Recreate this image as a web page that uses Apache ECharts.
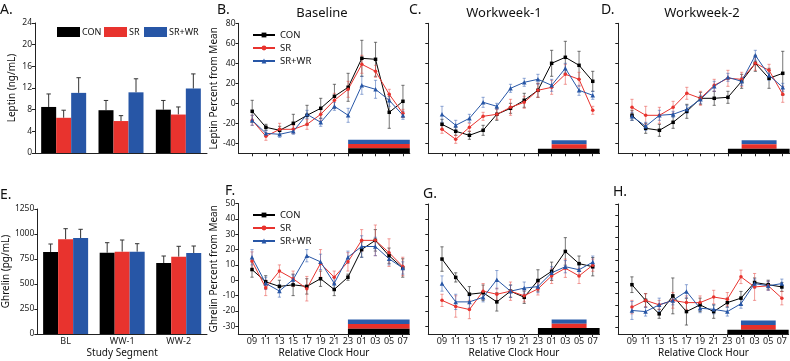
<!DOCTYPE html>
<html>
<head>
<meta charset="utf-8">
<script src="https://cdn.jsdelivr.net/npm/echarts@6/dist/echarts.min.js"></script>
<style>
html, body { margin: 0; padding: 0; background: #fff; }
#chart { width: 790px; height: 361px; }
</style>
</head>
<body>
<div id="chart"></div>
<script>
// categories
const segments = ['BL', 'WW-1', 'WW-2'];
const hours = ['09', '11', '13', '15', '17', '19', '21', '23', '01', '03', '05', '07'];

// A. leptin by study segment (mean, upper SE)
const leptinCON = [8.5, 7.9, 8.0];
const leptinSR = [6.5, 5.9, 7.1];
const leptinWR = [11.1, 11.2, 11.9];
const leptinErrCON = [2.4, 1.8, 1.7];
const leptinErrSR = [1.4, 1.0, 1.4];
const leptinErrWR = [2.8, 2.5, 2.7];

// E. ghrelin by study segment
const ghrelinCON = [820, 813, 710];
const ghrelinSR = [947, 823, 773];
const ghrelinWR = [960, 823, 810];
const ghrelinErrCON = [80, 100, 70];
const ghrelinErrSR = [106, 117, 104];
const ghrelinErrWR = [87, 80, 70];

// B. baseline leptin % from mean
const blLepCON = [-8, -24, -27, -20, -12, -5, 7, 16, 45, 44, -9, 2];
const blLepSR = [-17, -33, -26, -26, -21, -11, 3, 14, 39, 32, 9, -10];
const blLepWR = [-17, -30, -31, -28, -11, -19, -3, -12, 18, 14, 3, -12];
const blLepErrCON = [11, 3, 4, 9, 10, 10, 12, 14, 18, 17, 16, 16];
const blLepErrSR = [5, 4, 6, 4, 5, 6, 7, 8, 9, 6, 5, 4];
const blLepErrWR = [5, 3, 3, 3, 4, 4, 4, 7, 9, 9, 6, 4];

// C. workweek-1 leptin
const w1LepCON = [-21, -28, -32, -27, -11, -5, 3, 13, 40, 46, 38, 22];
const w1LepSR = [-26, -36, -24, -13, -11, -4, 1, 13, 16, 29, 24, -7];
const w1LepWR = [-11, -22, -15, 1, -3, 15, 21, 24, 18, 35, 13, 8];
const w1LepErrCON = [5, 4, 4, 5, 6, 5, 7, 7, 13, 16, 14, 10];
const w1LepErrSR = [4, 4, 4, 4, 5, 8, 6, 7, 7, 10, 7, 4];
const w1LepErrWR = [8, 5, 4, 5, 3, 4, 4, 5, 6, 5, 5, 4];

// D. workweek-2 leptin
const w2LepCON = [-12, -25, -27, -19, -8, 5, 5, 6, 22, 40, 25, 30];
const w2LepSR = [-4, -12, -12, -4, 10, 5, 18, 25, 24, 40, 33, 9];
const w2LepWR = [-13, -23, -12, -11, -6, 4, 17, 26, 22, 48, 28, 16];
const w2LepErrCON = [5, 5, 6, 6, 7, 6, 7, 6, 7, 8, 10, 22];
const w2LepErrSR = [8, 9, 8, 6, 6, 7, 6, 8, 7, 7, 6, 8];
const w2LepErrWR = [4, 4, 5, 3, 4, 4, 5, 4, 4, 5, 5, 4];

// F. baseline ghrelin
const blGhrCON = [7, -1, -4, -3, -4, 1, -6, 2, 20, 26, 16, 8];
const blGhrSR = [12.5, -5, 6, 1, -5.5, 11, 2, 12, 26, 26, 18, 9];
const blGhrWR = [15, -2, -7, 0.5, 16, 12, -2, 15, 22, 22, 14, 8];
const blGhrErrCON = [5, 4, 4, 7, 5, 5, 4, 2, 5, 7, 5, 6];
const blGhrErrSR = [6, 5, 4, 5, 8, 9, 4, 6, 7, 10, 9, 6];
const blGhrErrWR = [5, 4, 4, 3, 4, 5, 4, 4, 7, 6, 4, 4];

// G. workweek-1 ghrelin
const w1GhrCON = [14, 2, -9, -8, -14, -7, -11, 0, 6, 19, 11, 9];
const w1GhrSR = [-13, -17, -19, -7, -9, -7, -10, -5.5, 3, 8, 3, 10];
const w1GhrWR = [-2, -14, -14, -11, 0.5, -7, -5, -4, 5, 9, 7, 12];
const w1GhrErrCON = [8, 3, 5, 5, 6, 4, 4, 7, 6, 9, 5, 6];
const w1GhrErrSR = [4, 7, 6, 5, 4, 6, 4, 4, 5, 6, 5, 4];
const w1GhrErrWR = [5, 5, 4, 3, 6, 4, 4, 4, 4, 4, 4, 4];

// H. workweek-2 ghrelin
const w2GhrCON = [-11, -18, -24, -16, -23, -20, -23, -19, -17, -10, -11, -12];
const w2GhrSR = [-21, -18, -20, -18, -19, -19, -16.5, -17.5, -7.5, -12, -11.5, -17];
const w2GhrWR = [-22.5, -23, -20, -18, -14, -21.5, -22, -23, -19.5, -10.5, -11.5, -10.5];
const w2GhrErrCON = [3.5, 3, 2, 8, 6, 3, 3, 2, 3, 2, 2, 2];
const w2GhrErrSR = [3, 3, 2, 3.5, 3, 3, 3, 3, 3, 6, 2, 3];
const w2GhrErrWR = [4, 2, 3, 2, 3, 2, 2, 2, 2, 2, 2, 2];

// sleep/wake bars: [startIndex, endIndex, yFrom, yTo] for blue, red, black
const blLepSleep = [[7, 11.5, -36.5, -40.7], [7, 11.5, -40.7, -45], [7, 11.5, -45, -50]];
const wwLepSleep = [[8, 10.55, -37, -41], [8, 10.55, -41, -45.5], [7, 11.5, -45.5, -50]];
const blGhrSleep = [[7, 11.5, -25.5, -28.5], [7, 11.5, -28.5, -31.5], [7, 11.5, -31.5, -35]];
const w1GhrSleep = [[8, 10.55, -25.5, -28.3], [8, 10.55, -28.3, -31], [7, 11.5, -31, -35]];
const w2GhrSleep = [[8, 10.55, -27, -29], [8, 10.55, -29, -31.1], [7, 11.5, -31.1, -33]];

const colors = ['#000000', '#e8332e', '#2756a6'];
const errColors = ['rgba(60,60,60,0.7)', 'rgba(232,80,75,0.55)', 'rgba(60,100,180,0.55)'];
const names = ['CON', 'SR', 'SR+WR'];
const symbols = ['rect', 'circle', 'triangle'];
const sleepColors = ['#2a5caa', '#e8302a', '#000000'];
const font = 'Noto Sans';
const axisCol = '#222';

const chart = echarts.init(document.getElementById('chart'));

function range(a, b, s) { const r = []; for (let v = a; v <= b + 1e-9; v += s) r.push(v); return r; }

function errItem(off, cap, color, lowerToo) {
  return function (params, api) {
    const x = api.value(0);
    const t = api.coord([x, api.value(2)]);
    const b = api.coord([x, api.value(1)]);
    t[0] += off; b[0] += off;
    const style = { stroke: color, lineWidth: 1 };
    const kids = [
      { type: 'line', shape: { x1: t[0], y1: t[1], x2: b[0], y2: b[1] }, style },
      { type: 'line', shape: { x1: t[0] - cap, y1: t[1], x2: t[0] + cap, y2: t[1] }, style }
    ];
    if (lowerToo) kids.push({ type: 'line', shape: { x1: b[0] - cap, y1: b[1], x2: b[0] + cap, y2: b[1] }, style });
    return { type: 'group', children: kids };
  };
}

function rectItem(color) {
  return function (params, api) {
    const p0 = api.coord([api.value(0), api.value(2)]);
    const p1 = api.coord([api.value(1), api.value(3)]);
    return { type: 'rect', shape: { x: p0[0], y: p0[1], width: p1[0] - p0[0], height: p1[1] - p0[1] }, style: { fill: color } };
  };
}

const grids = [
  { left: 35, top: 23, width: 172, height: 130 },      // A
  { left: 35, top: 209, width: 172, height: 125 },     // E
  { left: 238.5, top: 23.3, width: 171.3, height: 130 }, // B
  { left: 428.3, top: 23.3, width: 171.3, height: 130 }, // C
  { left: 618.3, top: 23.3, width: 171.3, height: 130 }, // D
  { left: 238.3, top: 203.5, width: 171.3, height: 130.5 }, // F
  { left: 428.3, top: 204, width: 171.3, height: 130 },  // G
  { left: 618.3, top: 204, width: 171.3, height: 130 }   // H
];

const lineStyleAxis = { color: axisCol, width: 1 };
const labelStyle = { fontSize: 8.5, color: axisCol, fontFamily: font, margin: 3 };

const xAxes = [];
const yAxes = [];
const series = [];

// line panels
const linePanels = [
  { g: 2, data: [blLepCON, blLepSR, blLepWR], err: [blLepErrCON, blLepErrSR, blLepErrWR], sleep: blLepSleep, ymin: -50, ymax: 80, ticks: range(-40, 80, 20), yLabel: true, xLabel: false, yName: 'Leptin Percent from Mean' },
  { g: 3, data: [w1LepCON, w1LepSR, w1LepWR], err: [w1LepErrCON, w1LepErrSR, w1LepErrWR], sleep: wwLepSleep, ymin: -50, ymax: 80, ticks: range(-40, 80, 20), yLabel: false, xLabel: false },
  { g: 4, data: [w2LepCON, w2LepSR, w2LepWR], err: [w2LepErrCON, w2LepErrSR, w2LepErrWR], sleep: wwLepSleep, ymin: -50, ymax: 80, ticks: range(-40, 80, 20), yLabel: false, xLabel: false },
  { g: 5, data: [blGhrCON, blGhrSR, blGhrWR], err: [blGhrErrCON, blGhrErrSR, blGhrErrWR], sleep: blGhrSleep, ymin: -35, ymax: 50, ticks: range(-30, 50, 10), yLabel: true, xLabel: true, yName: 'Ghrelin Percent from Mean' },
  { g: 6, data: [w1GhrCON, w1GhrSR, w1GhrWR], err: [w1GhrErrCON, w1GhrErrSR, w1GhrErrWR], sleep: w1GhrSleep, ymin: -35, ymax: 50, ticks: range(-30, 50, 10), yLabel: false, xLabel: true },
  { g: 7, data: [w2GhrCON, w2GhrSR, w2GhrWR], err: [w2GhrErrCON, w2GhrErrSR, w2GhrErrWR], sleep: w2GhrSleep, ymin: -33, ymax: 25, ticks: range(-30, 25, 5), yLabel: false, xLabel: true }
];

// bar panel axes first (index 0, 1)
[0, 1].forEach(function (g) {
  xAxes.push({
    gridIndex: g, type: 'category', data: segments,
    axisLine: { onZero: false, lineStyle: lineStyleAxis },
    axisTick: { alignWithLabel: true, length: 3, lineStyle: lineStyleAxis },
    axisLabel: Object.assign({ show: g === 1 }, labelStyle, { fontSize: 9 }),
    name: g === 1 ? 'Study Segment' : '', nameLocation: 'middle', nameGap: 14,
    nameTextStyle: { fontSize: 10, color: '#111', fontFamily: font }
  });
  yAxes.push({
    gridIndex: g, type: 'value', min: 0, max: g === 0 ? 24 : 1250, interval: g === 0 ? 4 : 250,
    splitLine: { show: false },
    axisLine: { show: true, onZero: false, lineStyle: lineStyleAxis },
    axisTick: { show: true, length: 3, lineStyle: lineStyleAxis },
    axisLabel: Object.assign({ formatter: function (v) { return String(v); } }, labelStyle),
    name: g === 0 ? 'Leptin (ng/mL)' : 'Ghrelin (pg/mL)', nameLocation: 'middle', nameGap: g === 0 ? 18 : 23,
    nameTextStyle: { fontSize: 10, color: '#111', fontFamily: font }
  });
});

linePanels.forEach(function (p) {
  xAxes.push({
    gridIndex: p.g, type: 'value', min: -1, max: 11.5,
    splitLine: { show: false },
    axisLine: { onZero: false, lineStyle: lineStyleAxis },
    axisTick: { length: 3, lineStyle: lineStyleAxis, customValues: range(0, 11, 1) },
    axisLabel: Object.assign({ show: p.xLabel, customValues: range(0, 11, 1), formatter: function (v) { return hours[Math.round(v)]; } }, labelStyle, { fontSize: 9 }),
    name: p.xLabel ? 'Relative Clock Hour' : '', nameLocation: 'middle', nameGap: 14,
    nameTextStyle: { fontSize: 10, color: '#111', fontFamily: font }
  });
  yAxes.push({
    gridIndex: p.g, type: 'value', min: p.ymin, max: p.ymax,
    splitLine: { show: false },
    axisLine: { show: true, onZero: false, lineStyle: lineStyleAxis },
    axisTick: { show: true, length: 3, lineStyle: lineStyleAxis, customValues: p.ticks },
    axisLabel: Object.assign({ show: p.yLabel, customValues: p.ticks }, labelStyle),
    name: p.yName || '', nameLocation: 'middle', nameGap: 17.5,
    nameTextStyle: { fontSize: 10, color: '#111', fontFamily: font }
  });
});

// line series (first so the line legends pick them up)
linePanels.forEach(function (p) {
  const ax = p.g;
  p.sleep.forEach(function (s, k) {
    series.push({
      type: 'custom', xAxisIndex: ax, yAxisIndex: ax, z: 1, silent: true,
      renderItem: rectItem(sleepColors[k]), data: [s], encode: { x: [0, 1], y: [2, 3] }
    });
  });
  p.data.forEach(function (vals, k) {
    series.push({
      type: 'custom', xAxisIndex: ax, yAxisIndex: ax, z: 2, silent: true,
      renderItem: errItem(0, 1.6, errColors[k], true),
      data: vals.map(function (v, i) { return [i, v - p.err[k][i], v + p.err[k][i]]; }),
      encode: { x: 0, y: [1, 2] }
    });
  });
  p.data.forEach(function (vals, k) {
    series.push({
      name: names[k], type: 'line', xAxisIndex: ax, yAxisIndex: ax, z: 3,
      data: vals.map(function (v, i) { return [i, v]; }),
      symbol: symbols[k], symbolSize: k === 2 ? 4.5 : 3.5, showSymbol: true,
      lineStyle: { width: 1, color: colors[k] }, itemStyle: { color: colors[k] },
      animation: false
    });
  });
});

// bar panels
const barSets = [
  { g: 0, data: [leptinCON, leptinSR, leptinWR], err: [leptinErrCON, leptinErrSR, leptinErrWR] },
  { g: 1, data: [ghrelinCON, ghrelinSR, ghrelinWR], err: [ghrelinErrCON, ghrelinErrSR, ghrelinErrWR] }
];
barSets.forEach(function (b) {
  b.data.forEach(function (vals, k) {
    series.push({
      name: names[k], type: 'bar', xAxisIndex: b.g, yAxisIndex: b.g, data: vals,
      barWidth: 15, barGap: '0%', itemStyle: { color: colors[k] }, z: 2, animation: false
    });
  });
  b.data.forEach(function (vals, k) {
    series.push({
      type: 'custom', xAxisIndex: b.g, yAxisIndex: b.g, z: 1, silent: true,
      renderItem: errItem((k - 1) * 15, 2.2, '#333', false),
      data: vals.map(function (v, i) { return [i, v, v + b.err[k][i]]; }),
      encode: { x: 0, y: [1, 2] }
    });
  });
});

const legendText = { fontSize: 9.5, color: '#111', fontFamily: font };
const lineLegend = function (left, top) {
  return { left: left, top: top, orient: 'vertical', itemWidth: 22, itemHeight: 6, itemGap: 3, data: names, textStyle: legendText, selectedMode: false };
};
// one box legend per group so each sits where the reference puts it
const barLegendLeft = [57, 104, 144];
const barLegends = names.map(function (n, k) {
  return { left: barLegendLeft[k], top: 27, padding: 0, itemWidth: 23, itemHeight: 10, selectedMode: false,
    textStyle: Object.assign({}, legendText, { fontSize: 9, padding: [0, 0, 0, -3] }),
    data: [{ name: n, icon: 'rect', itemStyle: { color: colors[k], borderWidth: 0 } }] };
});

const graphicText = function (x, y, text, size, align) {
  return { type: 'text', x: x, y: y, style: { text: text, fontSize: size, fontFamily: font, fill: '#111', align: align || 'left', verticalAlign: 'middle' } };
};

chart.setOption({
  animation: false,
  grid: grids,
  xAxis: xAxes,
  yAxis: yAxes,
  legend: barLegends.concat([lineLegend(247, 25), lineLegend(247, 205)]),
  graphic: [
    graphicText(0, 10, 'A.', 14),
    graphicText(217, 10, 'B.', 14),
    graphicText(409, 10, 'C.', 14),
    graphicText(601, 10, 'D.', 14),
    graphicText(0, 195, 'E.', 14),
    graphicText(225, 191, 'F.', 14),
    graphicText(423, 194, 'G.', 14),
    graphicText(613, 192, 'H.', 14),
    graphicText(322, 13, 'Baseline', 13, 'center'),
    graphicText(504, 13, 'Workweek-1', 13, 'center'),
    graphicText(702, 13, 'Workweek-2', 13, 'center')
  ],
  series: series
});
</script>
</body>
</html>
